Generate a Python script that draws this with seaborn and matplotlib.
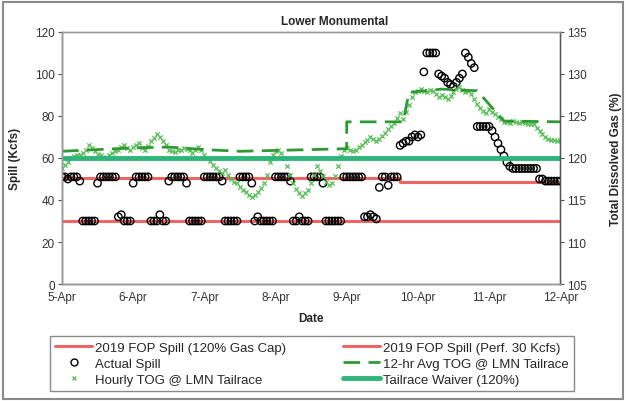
import numpy as np
import pandas as pd
import matplotlib
matplotlib.use("Agg")
import matplotlib.pyplot as plt
import matplotlib.dates as mdates
from matplotlib.lines import Line2D
from matplotlib.patches import Rectangle
import seaborn as sns

# ---------------- data ----------------
start, end = "2019-04-05 00:00", "2019-04-12 00:00"
hours = pd.date_range(start, end, freq="h")  # hourly time stamps

actual_spill = [
    # 5-Apr
    51, 51, 50, 51, 51, 51, 49, 30, 30, 30, 30, 30, 48, 51, 51, 51, 51, 51, 51, 32, 33, 30, 30, 30,
    # 6-Apr
    48, 51, 51, 51, 51, 51, 30, 30, 30, 33, 30, 30, 49, 51, 51, 51, 51, 51, 48, 30, 30, 30, 30, 30,
    # 7-Apr
    51, 51, 51, 51, 51, 51, 49, 30, 30, 30, 30, 30, 51, 51, 51, 51, 48, 30, 32, 30, 30, 30, 30, 30,
    # 8-Apr
    51, 51, 51, 51, 51, 49, 30, 30, 32, 30, 30, 30, 51, 51, 51, 51, 48, 30, 30, 30, 30, 30, 30, 51,
    # 9-Apr
    51, 51, 51, 51, 51, 51, 32, 32, 33, 32, 31, 46, 51, 51, 47, 51, 51, 51, 66, 67, 68, 68, 70, 71,
    # 10-Apr
    70, 71, 101, 110, 110, 110, 110, 100, 99, 98, 96, 95, 94, 96, 98, 100, 110, 108, 105, 103, 75, 75, 75, 75,
    # 11-Apr + 12-Apr 00:00
    75, 73, 70, 67, 64, 61, 58, 56, 55, 55, 55, 55, 55, 55, 55, 55, 55, 50, 50, 49, 49, 49, 49, 49, 49,
]

hourly_tog = [
    # 5-Apr
    118.8, 119.2, 119.5, 120.0, 120.2, 120.4, 120.3, 120.6, 121.0, 121.6, 121.2, 120.8,
    120.5, 120.3, 120.1, 120.0, 120.3, 120.6, 120.8, 121.0, 121.3, 121.6, 121.2, 121.0,
    # 6-Apr
    121.3, 121.5, 121.8, 121.2, 120.9, 121.4, 122.0, 122.4, 122.8, 122.5, 122.0, 121.5,
    121.0, 120.8, 120.7, 120.9, 121.0, 121.2, 121.1, 120.9, 120.6, 120.9, 121.3, 121.0,
    # 7-Apr
    120.3, 120.0, 119.6, 119.2, 118.8, 118.5, 118.2, 118.6, 118.0, 117.5, 117.2, 117.0,
    116.6, 116.2, 115.9, 115.6, 115.3, 115.6, 116.0, 116.4, 117.0, 118.0, 119.5, 120.4,
    # 8-Apr
    120.8, 121.0, 120.6, 120.0, 119.0, 118.0, 117.0, 116.3, 115.8, 115.5, 115.8, 116.2,
    117.0, 118.0, 119.0, 118.5, 117.8, 117.2, 116.8, 117.0, 117.8, 119.0, 120.2, 121.0,
    # 9-Apr
    121.2, 121.0, 120.8, 121.0, 121.3, 121.6, 121.9, 122.2, 122.5, 122.3, 122.0, 122.3,
    122.6, 123.0, 123.4, 123.8, 124.2, 124.8, 125.3, 124.6, 125.5, 126.3, 127.2, 127.8,
    # 10-Apr
    128.0, 128.2, 128.0, 127.8, 128.1, 128.0, 127.6, 127.3, 127.5, 127.2, 127.0, 127.4,
    127.8, 128.2, 128.4, 128.1, 127.8, 128.0, 127.6, 127.0, 126.4, 126.0, 125.6, 125.4,
    # 11-Apr + 12-Apr 00:00
    125.8, 125.5, 125.2, 124.9, 124.6, 124.3, 124.3, 124.2, 124.4, 124.3, 124.2, 124.3,
    124.2, 124.0, 124.1, 124.0, 123.6, 123.2, 122.8, 122.5, 122.3, 122.2, 122.2, 122.0, 122.1,
]

avg_times = ["2019-04-05 00:00", "2019-04-05 12:00", "2019-04-06 00:00", "2019-04-06 12:00",
             "2019-04-07 00:00", "2019-04-07 12:00", "2019-04-08 00:00", "2019-04-08 12:00",
             "2019-04-09 00:00", "2019-04-09 00:00", "2019-04-09 19:00", "2019-04-09 21:00",
             "2019-04-10 08:00", "2019-04-10 20:00", "2019-04-11 05:00", "2019-04-12 00:00"]
avg_tog = [120.8, 121.0, 121.2, 121.3, 121.0, 120.8, 120.9, 121.0,
           121.1, 124.3, 124.3, 127.8, 128.2, 128.0, 124.4, 124.3]

gas_cap_times = [start, "2019-04-09 18:00", "2019-04-09 18:00", end]
gas_cap_spill = [50.5, 50.5, 48.8, 48.8]
perf_times = [start, end]
perf_spill = [30, 30]
waiver_times = [start, end]
waiver_tog = [120, 120]

legend_labels = ["2019 FOP Spill (120% Gas Cap)", "2019 FOP Spill (Perf. 30 Kcfs)",
                 "Actual Spill", "12-hr Avg TOG @ LMN Tailrace",
                 "Hourly TOG @ LMN Tailrace", "Tailrace Waiver (120%)"]

# ---------------- styling ----------------
sns.set_style("white")
plt.rcParams["font.family"] = ["Liberation Sans", "DejaVu Sans"]
plt.rcParams["font.size"] = 8

RED = "#ef6464"
GREEN_PT = "#55c055"
GREEN_AVG = "#2f9a34"
TEAL = "#2fb57a"

df = pd.DataFrame({"time": hours, "spill": actual_spill, "tog": hourly_tog})
df_avg = pd.DataFrame({"time": pd.to_datetime(avg_times), "tog": avg_tog})
df_cap = pd.DataFrame({"time": pd.to_datetime(gas_cap_times), "spill": gas_cap_spill})
df_perf = pd.DataFrame({"time": pd.to_datetime(perf_times), "spill": perf_spill})
df_wv = pd.DataFrame({"time": pd.to_datetime(waiver_times), "tog": waiver_tog})

fig = plt.figure(figsize=(6.26, 4.02), dpi=100)
ax = fig.add_axes([0.099, 0.291, 0.796, 0.627])
ax2 = ax.twinx()

sns.lineplot(data=df_cap, x="time", y="spill", ax=ax, color=RED, lw=2.2,
             estimator=None, sort=False, legend=False)
sns.lineplot(data=df_perf, x="time", y="spill", ax=ax, color=RED, lw=2.2,
             estimator=None, sort=False, legend=False)
sns.scatterplot(data=df, x="time", y="spill", ax=ax, marker="o", s=28,
                facecolor="none", edgecolor="black", linewidth=1.0, legend=False, zorder=3)

sns.scatterplot(data=df, x="time", y="tog", ax=ax2, marker="x", s=10,
                color=GREEN_PT, linewidth=0.9, legend=False)
sns.lineplot(data=df_avg, x="time", y="tog", ax=ax2, color=GREEN_AVG, lw=2.0,
             dashes=False, estimator=None, sort=False, legend=False)
ax2.lines[-1].set_dashes([6, 3])
sns.lineplot(data=df_wv, x="time", y="tog", ax=ax2, color=TEAL, lw=3.5,
             estimator=None, sort=False, legend=False)

ax.set_xlim(pd.Timestamp(start), pd.Timestamp(end))
ax.set_ylim(0, 120)
ax2.set_ylim(105, 135)
ax.set_yticks(range(0, 121, 20))
ax2.set_yticks(range(105, 136, 5))
ax.xaxis.set_major_locator(mdates.DayLocator())
ax.xaxis.set_major_formatter(mdates.DateFormatter("%-d-%b"))

for a in (ax, ax2):
    for s in a.spines.values():
        s.set_color("#9a9a9a")
        s.set_linewidth(1.0)
ax.spines["left"].set_color("#555555")
ax.spines["bottom"].set_color("#555555")
ax2.spines["right"].set_color("#555555")
ax.tick_params(axis="y", direction="out", length=3, width=0.8, colors="#555555",
               labelcolor="#333333", labelsize=8.5, pad=2)
ax.tick_params(axis="x", direction="inout", length=4, width=0.8, colors="#555555",
               labelcolor="#333333", labelsize=8.5, pad=3)
ax2.tick_params(axis="y", direction="out", length=3, width=0.8, colors="#555555",
                labelcolor="#333333", labelsize=8.5, pad=2)

ax.set_xlabel("Date", fontweight="bold", fontsize=8.5)
ax.set_ylabel("Spill (Kcfs)", fontweight="bold", fontsize=8.5)
ax2.set_ylabel("Total Dissolved Gas (%)", fontweight="bold", fontsize=8.5, rotation=90)
ax.xaxis.set_label_coords(0.5, -0.11)
ax.yaxis.set_label_coords(-0.082, 0.5)
ax2.yaxis.set_label_coords(1.1, 0.5)

fig.text(0.534, 0.945, "Lower Monumental", ha="center", va="center",
         fontsize=8.5, fontweight="bold")

handles = [
    Line2D([], [], color=RED, lw=2.2),
    Line2D([], [], marker="o", ls="none", mfc="none", mec="black", ms=5, mew=1.0),
    Line2D([], [], marker="x", ls="none", color=GREEN_PT, ms=3, mew=0.9),
    Line2D([], [], color=RED, lw=2.2),
    Line2D([], [], color=GREEN_AVG, lw=2.0, dashes=[6, 3]),
    Line2D([], [], color=TEAL, lw=3.5),
]
labels = [legend_labels[0], legend_labels[2], legend_labels[4],
          legend_labels[1], legend_labels[3], legend_labels[5]]
leg = fig.legend(handles, labels, ncol=2, loc="lower left",
                 bbox_to_anchor=(0.08, 0.025, 0.837, 0.142), mode="expand",
                 borderaxespad=0, fontsize=9.5, frameon=True, fancybox=False,
                 edgecolor="#8a8a8a", framealpha=1, handlelength=2.8,
                 handletextpad=0.2, labelspacing=0.28, borderpad=0.4)
leg.get_frame().set_linewidth(1.0)

fig.patches.append(Rectangle((0.004, 0.006), 0.992, 0.986, transform=fig.transFigure,
                             fill=False, ec="#8a8a8a", lw=1.5))

fig.savefig("out.png", dpi=100)
